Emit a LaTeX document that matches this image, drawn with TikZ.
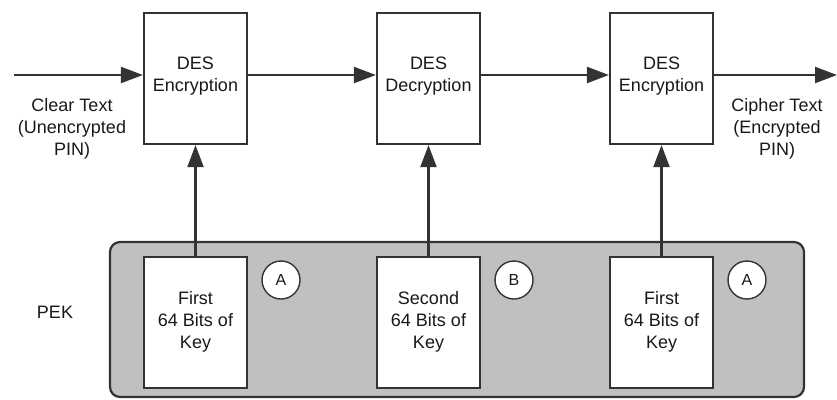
\documentclass[tikz,border=0pt]{standalone}
\usepackage{fontspec}
\setmainfont{Liberation Sans}
\usetikzlibrary{arrows.meta,positioning}
\definecolor{keygray}{RGB}{192,192,192}
\begin{document}
\begin{tikzpicture}[x=1pt, y=-1pt, every node/.style={font=\fontsize{18}{22}\selectfont,text=black!90}, ln/.style={line width=2.2pt,draw=black!80}, blk/.style={ln,rectangle,fill=white,minimum width=103pt,minimum height=131pt,inner sep=0pt}, txt/.style={align=center,inner sep=0pt,anchor=north}, tag/.style={circle,draw=black!80,line width=1.4pt,fill=white,minimum size=38pt,inner sep=0pt,font=\fontsize{16}{16}\selectfont}, arr/.style={ln,-{Triangle[length=22pt,width=16pt]}}]
\useasboundingbox (0,0) rectangle (837,399);
% key panel
\draw[ln,fill=keygray,rounded corners=10pt] (110,242) rectangle (804,397);
\node (pek) at (55,312) {PEK};
\node[blk] (k1) at (195.5,322.5) {}; \node[txt] (k1t) at ([yshift=-35pt]k1.north) {First\\64 Bits of\\Key};
\node[blk] (k2) at (428.5,322.5) {}; \node[txt] (k2t) at ([yshift=-35pt]k2.north) {Second\\64 Bits of\\Key};
\node[blk] (k3) at (661.5,322.5) {}; \node[txt] (k3t) at ([yshift=-35pt]k3.north) {First\\64 Bits of\\Key};
\node[tag] (ta) at (281,280) {A}; \node[tag] (tb) at (514,280) {B}; \node[tag] (tc) at (747,280) {A};
% DES stages
\node[blk] (e1) at (195.5,78.5) {}; \node[txt] (e1t) at ([yshift=-45pt]e1.north) {DES\\Encryption};
\node[blk] (d2) at (428.5,78.5) {}; \node[txt] (d2t) at ([yshift=-45pt]d2.north) {DES\\Decryption};
\node[blk] (e3) at (661.5,78.5) {}; \node[txt] (e3t) at ([yshift=-45pt]e3.north) {DES\\Encryption};
\coordinate (in) at (14,75); \coordinate (out) at (837,75);
\draw[arr] (in) -- (in -| e1.west); \draw[arr] (in -| e1.east) -- (in -| d2.west); \draw[arr] (in -| d2.east) -- (in -| e3.west); \draw[arr] (in -| e3.east) -- (out);
\draw[arr] (k1.north) -- (e1.south); \draw[arr] (k2.north) -- (d2.south); \draw[arr] (k3.north) -- (e3.south);
\node[txt] (clr) at (72,98) {Clear Text\\(Unencrypted\\PIN)};
\node[txt] (cph) at (777,98) {Cipher Text\\(Encrypted\\PIN)};
\end{tikzpicture}
\end{document}
